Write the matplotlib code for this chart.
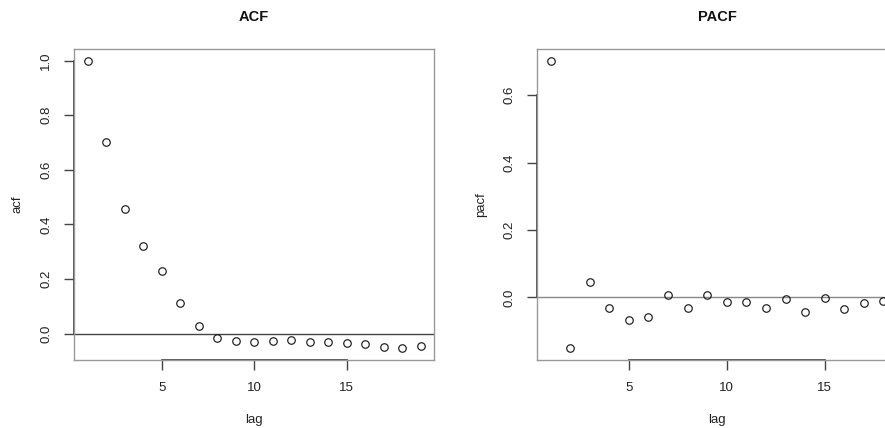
import numpy as np
import matplotlib.pyplot as plt

plt.rcParams['font.family'] = ['Liberation Sans', 'DejaVu Sans']

# valores
acf_lag = np.arange(1, 20)
acf_val = [1.0, 0.703, 0.456, 0.321, 0.228, 0.114, 0.027, -0.014, -0.026, -0.029,
           -0.026, -0.022, -0.029, -0.029, -0.034, -0.039, -0.049, -0.054, -0.046]

pacf_lag = np.arange(1, 19)
pacf_val = [0.702, -0.150, 0.045, -0.031, -0.066, -0.058, 0.007, -0.030, 0.006,
            -0.014, -0.014, -0.030, -0.006, -0.043, -0.002, -0.033, -0.017, -0.012]

W, H = 885, 428
fig = plt.figure(figsize=(W / 100, H / 100), dpi=100)

# posiciones en pixeles (izq, der, arriba, abajo)
ax1 = fig.add_axes([74.3 / W, (H - 360) / H, 359.7 / W, 311 / H])
ax2 = fig.add_axes([537.3 / W, (H - 359.5) / H, 359.4 / W, 310.2 / H])

paneles = [
    (ax1, acf_lag, acf_val, 'ACF', 'acf', [0.0, 0.2, 0.4, 0.6, 0.8, 1.0], '#444444'),
    (ax2, pacf_lag, pacf_val, 'PACF', 'pacf', [0.0, 0.2, 0.4, 0.6], '#888888'),
]

for ax, lag, val, titulo, etiqueta, yt, zcol in paneles:
    ax.plot(lag, val, 'o', mfc='none', mec='#1a1a1a', ms=5.4, mew=0.85, clip_on=False)
    ax.margins(0.04)
    ax.axhline(0, color=zcol, lw=1.0, zorder=0)
    for s in ax.spines.values():
        s.set_color('#999999')
        s.set_linewidth(1.0)
    ax.set_xticks([5, 10, 15])
    ax.set_yticks(yt)
    ax.set_yticklabels([f'{v:.1f}' for v in yt], rotation=90, va='center')
    ax.tick_params(length=7, width=1.0, color='#444444', labelsize=9.5,
                   labelcolor='#222222', pad=9)
    # linea del eje solo entre el primer y ultimo tick (estilo R)
    ax.plot([5, 15], [0, 0], color='#333333', lw=1.2,
            transform=ax.get_xaxis_transform(), clip_on=False)
    ax.plot([0, 0], [yt[0], yt[-1]], color='#333333', lw=1.2,
            transform=ax.get_yaxis_transform(), clip_on=False)
    ax.set_xlabel('lag', fontsize=9.5, color='#222222')
    ax.xaxis.set_label_coords(0.5, -0.175)
    ax.set_ylabel(etiqueta, fontsize=9.5, color='#222222')
    ax.text(0.5, 1.103, titulo, transform=ax.transAxes, ha='center', va='center',
            fontsize=10.5, fontweight='bold', color='#111111')

ax1.yaxis.set_label_coords(-0.14, 0.5)
ax2.yaxis.set_label_coords(-0.14, 0.5)

fig.savefig('out.png', dpi=100)
